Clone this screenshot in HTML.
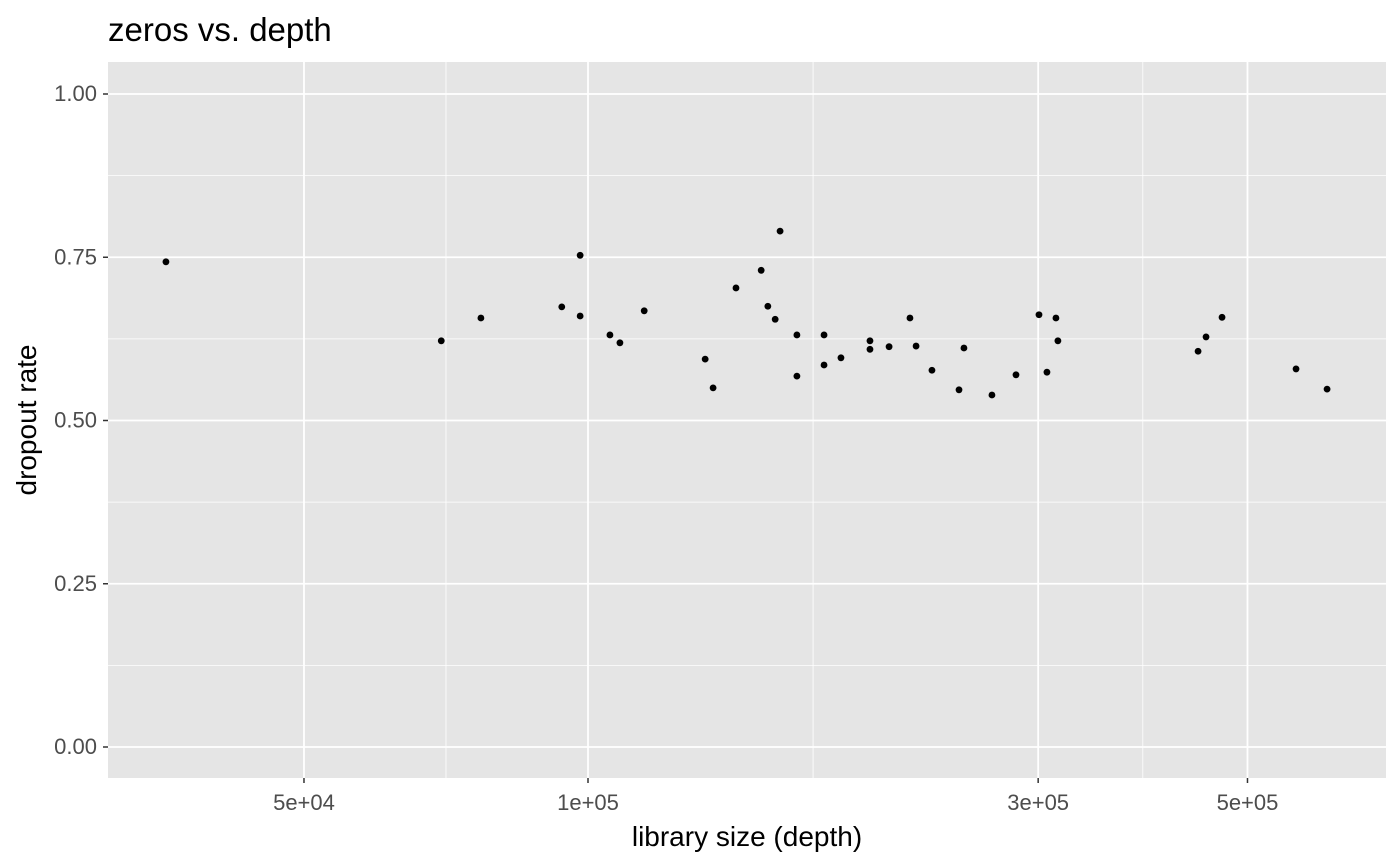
<!DOCTYPE html>
<html><head><meta charset="utf-8"><style>body{margin:0;background:#fff}svg{display:block}text{font-family:"Liberation Sans",Arial,sans-serif}</style></head>
<body>
<svg id="chart" width="1400" height="866">
<text x="108" y="41" font-size="33" fill="#000">zeros vs. depth</text>
<rect x="108" y="62" width="1278" height="716" fill="#e5e5e5"/>
<g id="grid"></g><g id="pts"></g><g id="axes"></g>
<text x="747" y="846" font-size="28" text-anchor="middle" fill="#000">library size (depth)</text>
<text transform="translate(36,420) rotate(-90)" font-size="28" text-anchor="middle" fill="#000">dropout rate</text>
</svg>
<script>
const xTicks=[5e4,1e5,3e5,5e5];
const xTickLabels=["5e+04","1e+05","3e+05","5e+05"];
const yTicks=[0,0.25,0.5,0.75,1];
const yTickLabels=["0.00","0.25","0.50","0.75","1.00"];
const depth=[35700,69900,77000,93800,98100,98100,105500,108100,114700,133100,135700,143500,152600,155100,157900,159800,166500,166500,177900,177900,185400,199000,199000,208500,219400,222700,231500,247300,250300,268000,284200,300600,306500,313300,314800,443200,451900,469900,562900,607200];
const dropout=[0.743,0.622,0.657,0.674,0.753,0.660,0.631,0.619,0.668,0.594,0.550,0.703,0.730,0.675,0.655,0.790,0.631,0.568,0.631,0.585,0.596,0.622,0.609,0.613,0.657,0.614,0.577,0.547,0.611,0.539,0.570,0.662,0.574,0.657,0.622,0.606,0.628,0.658,0.579,0.548];
const NS="http://www.w3.org/2000/svg";
const xs=v=>588+943.5*Math.log10(v/1e5);
const ys=v=>747-653*v;
function mk(tag,attrs,parent){const e=document.createElementNS(NS,tag);for(const k in attrs)e.setAttribute(k,attrs[k]);document.getElementById(parent).appendChild(e);return e;}
const minorX=[];for(let i=0;i<xTicks.length-1;i++)minorX.push(Math.sqrt(xTicks[i]*xTicks[i+1]));
for(const m of minorX){const l=mk('line',{x1:xs(m),x2:xs(m),y1:62,y2:778,stroke:'#fff','stroke-width':0.8},'grid');

}
for(let i=0;i<yTicks.length-1;i++){const m=(yTicks[i]+yTicks[i+1])/2;const l=mk('line',{x1:108,x2:1386,y1:ys(m),y2:ys(m),stroke:'#fff','stroke-width':0.8},'grid');

}
xTicks.forEach((t,i)=>{const x=xs(t);const l=mk('line',{x1:x,x2:x,y1:62,y2:778,stroke:'#fff','stroke-width':1.8},'grid');


mk('line',{x1:x,x2:x,y1:778,y2:783,stroke:'#333','stroke-width':1.5},'axes');
const tx=mk('text',{x:x,y:810,'font-size':22,'text-anchor':'middle',fill:'#4d4d4d'},'axes');tx.textContent=xTickLabels[i];

});
yTicks.forEach((t,i)=>{const y=ys(t);const l=mk('line',{x1:108,x2:1386,y1:y,y2:y,stroke:'#fff','stroke-width':1.8},'grid');


mk('line',{x1:103,x2:108,y1:y,y2:y,stroke:'#333','stroke-width':1.5},'axes');
const tx=mk('text',{x:97,y:y+7,'font-size':22,'text-anchor':'end',fill:'#4d4d4d'},'axes');tx.textContent=yTickLabels[i];

});
depth.forEach((d,i)=>{const c=mk('circle',{cx:xs(d),cy:ys(dropout[i]),r:3.4,fill:'#000'},'pts');

});
</script>
</body></html>
